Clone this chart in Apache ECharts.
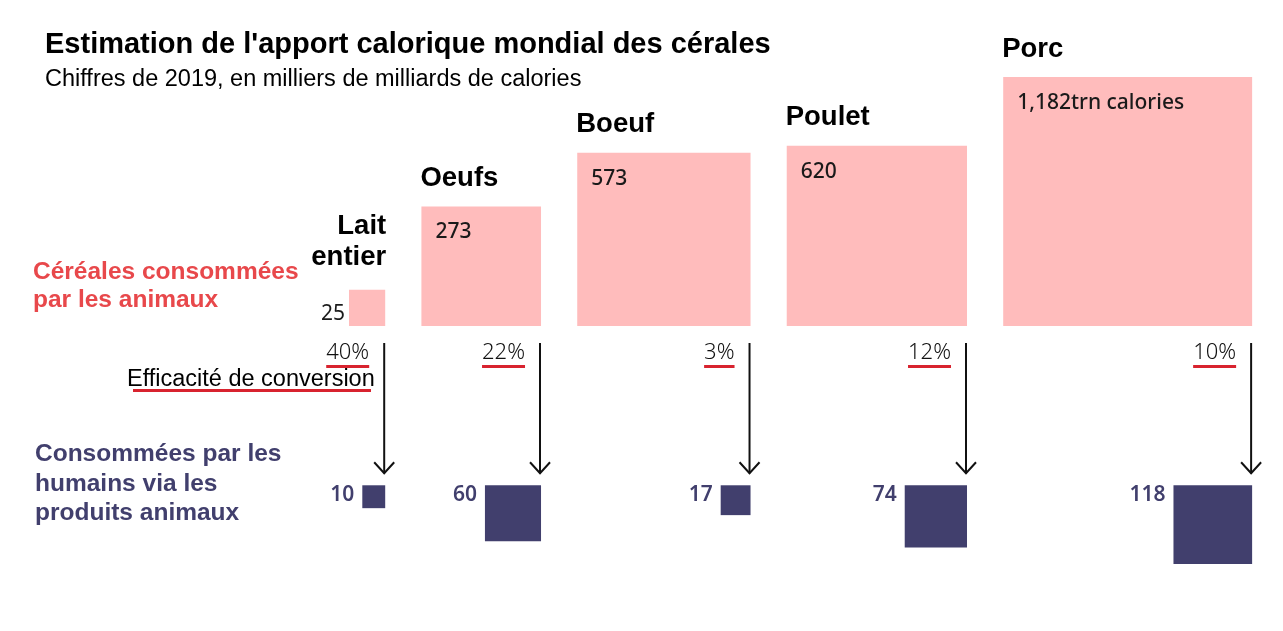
<!DOCTYPE html>
<html>
<head>
<meta charset="utf-8">
<script src="https://cdn.jsdelivr.net/npm/echarts@6/dist/echarts.min.js"></script>
<style>html,body{margin:0;padding:0;background:#fff;}#chart{width:1283px;height:631px;}</style>
</head>
<body>
<div id="chart"></div>
<script>
// ---- data ----
const categories = ['Lait entier', 'Oeufs', 'Boeuf', 'Poulet', 'Porc'];
const nameLabels = ['Lait\nentier', 'Oeufs', 'Boeuf', 'Poulet', 'Porc'];
const cerealValues = [25, 273, 573, 620, 1182];
const cerealLabels = ['25', '273', '573', '620', '1,182trn calories'];
const humanValues = [10, 60, 17, 74, 118];
const efficiencyLabels = ['40%', '22%', '3%', '12%', '10%'];

// ---- layout helpers (square side proportional to sqrt(value)) ----
const PX = 7.24;          // px per sqrt-unit
const GAP = 5;            // gap between squares, in sqrt-units
const BOTTOM_TOP = -22;   // top of the lower row of squares, in sqrt-units
const Y_MIN = -40, Y_MAX = 40;

const sides = cerealValues.map(v => Math.sqrt(v));
const lefts = [];
let acc = 0;
sides.forEach((s, i) => { lefts.push(acc); acc += s + (i < sides.length - 1 ? GAP : 0); });
const total = acc;

const topData = cerealValues.map((v, i) => [lefts[i], sides[i], v, i]);
const bottomData = humanValues.map((v, i) => [lefts[i] + sides[i], Math.sqrt(v), v, i]);
const arrowData = categories.map((c, i) => [lefts[i] + sides[i], i]);

const measureCtx = document.createElement('canvas').getContext('2d');
function textWidth(t, font) { measureCtx.font = font; return measureCtx.measureText(t).width; }

const NAME_FONT = 'Liberation Sans, Arial, sans-serif';
const NUM_FONT = 'Noto Sans, Open Sans, sans-serif';
const PINK = '#ffbcbc';
const NAVY = '#413f6d';
const RED = '#d8232f';

const gridLeft = 349;
const gridWidth = total * PX;
const gridHeight = (Y_MAX - Y_MIN) * PX;
const gridTop = 326 - Y_MAX * PX;

const chart = echarts.init(document.getElementById('chart'), null, { renderer: 'canvas' });

const option = {
  backgroundColor: '#ffffff',
  animation: false,
  title: {
    text: "Estimation de l'apport calorique mondial des cérales",
    subtext: 'Chiffres de 2019, en milliers de milliards de calories',
    left: 40, top: 25, itemGap: 9,
    textStyle: { fontFamily: NAME_FONT, fontSize: 29, fontWeight: 'bold', color: '#000' },
    subtextStyle: { fontFamily: NAME_FONT, fontSize: 23.5, color: '#000' }
  },
  grid: { left: gridLeft, top: gridTop, width: gridWidth, height: gridHeight },
  xAxis: { type: 'value', min: 0, max: total, show: false },
  yAxis: { type: 'value', min: Y_MIN, max: Y_MAX, show: false },
  graphic: [
    { type: 'text', left: 33, top: 258, style: { text: 'Céréales consommées\npar les animaux', fill: '#e8484b', font: 'bold 24.5px ' + NAME_FONT, lineHeight: 28 } },
    { type: 'text', left: 127, top: 368, style: { text: 'Efficacité de conversion', fill: '#000', font: '23.5px ' + NAME_FONT } },
    { type: 'rect', shape: { x: 133, y: 389, width: 238, height: 3 }, style: { fill: RED } },
    { type: 'text', left: 35, top: 439.5, style: { text: 'Consommées par les\nhumains via les\nproduits animaux', fill: NAVY, font: 'bold 24.5px ' + NAME_FONT, lineHeight: 29.5 } }
  ],
  series: [
    {
      type: 'custom', name: 'Céréales consommées par les animaux',
      data: topData, silent: true,
      renderItem: function (params, api) {
        const i = params.dataIndex;
        const left = api.value(0), s = api.value(1);
        const p0 = api.coord([left, s]);
        const p1 = api.coord([left + s, 0]);
        const w = p1[0] - p0[0], h = p1[1] - p0[1];
        const narrow = w < 60;
        const children = [
          { type: 'rect', shape: { x: p0[0], y: p0[1], width: w, height: h }, style: { fill: PINK } }
        ];
        if (narrow) {
          children.push({ type: 'text', style: { text: nameLabels[i], x: p1[0] + 1, y: p0[1] - 47.5, align: 'right', verticalAlign: 'middle', lineHeight: 31, font: 'bold 27.5px ' + NAME_FONT, fill: '#000' } });
          children.push({ type: 'text', style: { text: cerealLabels[i], x: p0[0] - 4, y: p1[1] - 12, align: 'right', verticalAlign: 'middle', font: '21px ' + NUM_FONT, fill: '#1a1a1a' } });
        } else {
          children.push({ type: 'text', style: { text: nameLabels[i], x: p0[0] - 1, y: p0[1] - 28, align: 'left', verticalAlign: 'middle', font: 'bold 27.5px ' + NAME_FONT, fill: '#000' } });
          children.push({ type: 'text', style: { text: cerealLabels[i], x: p0[0] + 14, y: p0[1] + 26, align: 'left', verticalAlign: 'middle', font: '500 21px ' + NUM_FONT, fill: '#1a1a1a' } });
        }
        return { type: 'group', children: children };
      }
    },
    {
      type: 'custom', name: 'Consommées par les humains',
      data: bottomData, silent: true,
      renderItem: function (params, api) {
        const i = params.dataIndex;
        const right = api.value(0), s = api.value(1);
        const p0 = api.coord([right - s, BOTTOM_TOP]);
        const p1 = api.coord([right, BOTTOM_TOP - s]);
        return {
          type: 'group', children: [
            { type: 'rect', shape: { x: p0[0], y: p0[1], width: p1[0] - p0[0], height: p1[1] - p0[1] }, style: { fill: NAVY } },
            { type: 'text', style: { text: String(humanValues[i]), x: p0[0] - 8, y: p0[1] + 10, align: 'right', verticalAlign: 'middle', font: '600 21px ' + NUM_FONT, fill: NAVY } }
          ]
        };
      }
    },
    {
      type: 'custom', name: 'Efficacité de conversion',
      data: arrowData, silent: true,
      renderItem: function (params, api) {
        const i = params.dataIndex;
        const base = api.coord([api.value(0), 0]);
        const bot = api.coord([api.value(0), BOTTOM_TOP]);
        const x = base[0] - 1;
        const y0 = base[1] + 17, y1 = bot[1] - 12;
        const pctFont = '300 22px ' + NUM_FONT;
        const tw = textWidth(efficiencyLabels[i], pctFont);
        const tr = x - 15;
        return {
          type: 'group', children: [
            { type: 'line', shape: { x1: x, y1: y0, x2: x, y2: y1 }, style: { stroke: '#111', lineWidth: 2 } },
            { type: 'polyline', shape: { points: [[x - 10, y1 - 11], [x, y1], [x + 10, y1 - 11]] }, style: { stroke: '#111', lineWidth: 2, fill: null } },
            { type: 'text', style: { text: efficiencyLabels[i], x: tr, y: base[1] + 27, align: 'right', verticalAlign: 'middle', font: pctFont, fill: '#111' } },
            { type: 'rect', shape: { x: tr - tw, y: base[1] + 39, width: tw, height: 3 }, style: { fill: RED } }
          ]
        };
      }
    }
  ]
};
chart.setOption(option);
</script>
</body>
</html>
